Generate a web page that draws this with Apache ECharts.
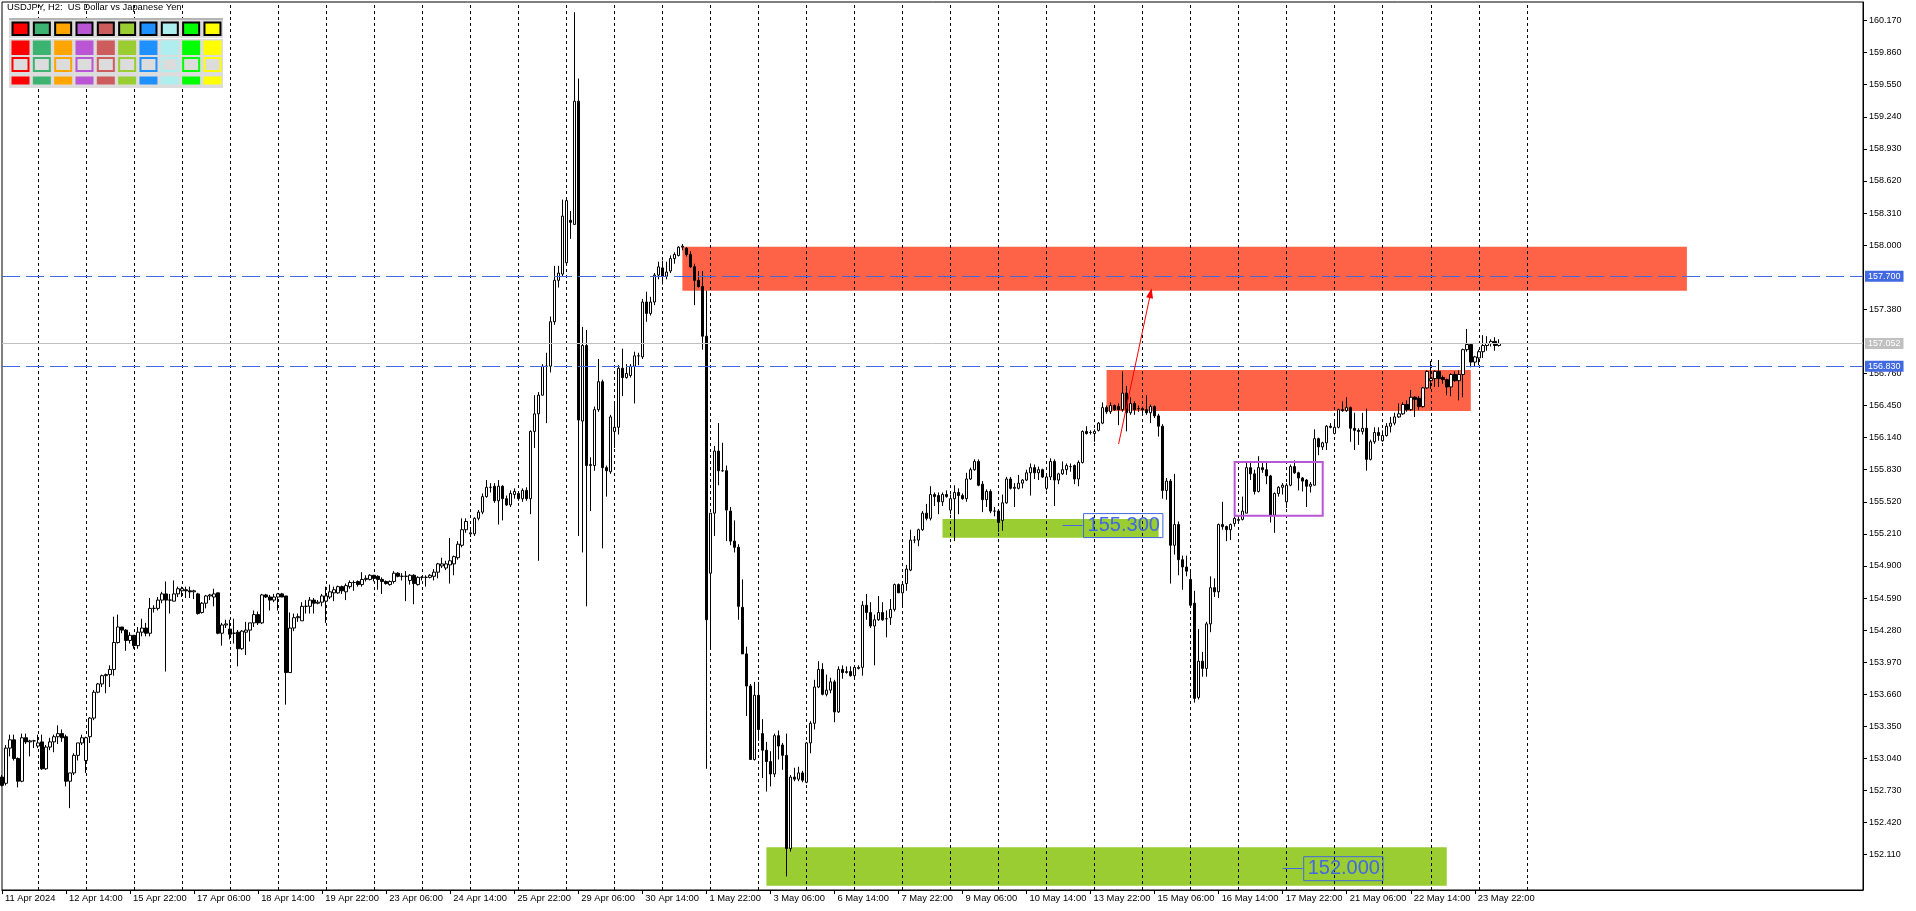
<!DOCTYPE html>
<html><head><meta charset="utf-8">
<script src="https://cdn.jsdelivr.net/npm/echarts@6/dist/echarts.min.js"></script>
<style>html,body{margin:0;padding:0;background:#fff;overflow:hidden}#c{width:1916px;height:911px}</style>
</head><body><div id="c"></div>
<script>
// ---- data ----
const tradingDays = ['11 Apr','12 Apr','15 Apr','16 Apr','17 Apr','18 Apr','19 Apr','22 Apr','23 Apr','24 Apr','25 Apr','26 Apr','29 Apr','30 Apr','1 May','2 May','3 May','6 May','7 May','8 May','9 May','10 May','13 May','14 May','15 May','16 May','17 May','20 May','21 May','22 May','23 May','24 May'];
const firstHour = 6;
const totalSlots = 466;
// [open, close, low, high]
const ohlc = [
[152.86,152.78,152.77,152.88],[152.80,153.14,152.78,153.17],[153.14,153.22,153.06,153.27],[153.22,153.04,153.02,153.27],[153.04,152.82,152.76,153.05],
[152.82,153.24,152.81,153.28],[153.24,153.20,153.18,153.28],[153.20,153.21,153.06,153.22],[153.21,153.21,153.14,153.22],[153.16,153.19,153.14,153.27],
[153.20,152.94,152.93,153.27],[152.94,153.15,152.93,153.17],[153.15,153.20,153.12,153.24],[153.20,153.25,153.10,153.27],[153.25,153.28,153.18,153.36],
[153.28,153.24,153.20,153.32],[153.25,152.82,152.77,153.27],[152.82,152.90,152.56,152.90],[152.90,153.07,152.88,153.09],[153.07,153.19,153.02,153.19],
[153.19,153.24,153.17,153.27],[153.02,153.24,152.90,153.25],[153.25,153.43,153.19,153.44],[153.43,153.68,153.41,153.70],[153.68,153.76,153.67,153.77],
[153.76,153.84,153.73,153.85],[153.84,153.85,153.67,153.86],[153.85,153.90,153.73,153.94],[153.90,154.16,153.84,154.41],[154.16,154.31,154.15,154.43],
[154.31,154.28,154.25,154.31],[154.28,154.18,154.08,154.29],[154.18,154.23,154.15,154.26],[154.23,154.13,154.10,154.22],[154.13,154.26,154.10,154.31],
[154.26,154.30,154.22,154.39],[154.30,154.25,154.22,154.35],[154.25,154.49,154.22,154.59],[154.49,154.49,154.45,154.52],[154.49,154.57,154.47,154.60],
[154.57,154.63,154.54,154.65],[154.63,154.57,153.88,154.75],[154.57,154.57,154.44,154.63],[154.56,154.63,154.56,154.76],[154.63,154.68,154.60,154.70],
[154.66,154.68,154.60,154.70],[154.67,154.66,154.59,154.70],[154.66,154.65,154.59,154.70],[154.65,154.66,154.58,154.67],[154.63,154.44,154.43,154.64],
[154.45,154.54,154.44,154.55],[154.54,154.61,154.49,154.62],[154.61,154.62,154.57,154.63],[154.60,154.63,154.51,154.68],[154.64,154.25,154.24,154.64],
[154.25,154.33,154.13,154.35],[154.33,154.34,154.30,154.38],[154.29,154.24,154.19,154.38],[154.25,154.25,154.15,154.39],[154.26,154.10,153.93,154.28],
[154.10,154.27,154.09,154.28],[154.26,154.28,154.04,154.36],[154.28,154.35,154.17,154.35],[154.35,154.43,154.31,154.47],[154.43,154.35,154.33,154.46],
[154.35,154.62,154.34,154.63],[154.62,154.60,154.59,154.63],[154.60,154.57,154.47,154.62],[154.57,154.60,154.55,154.63],[154.60,154.63,154.47,154.64],
[154.63,154.60,154.60,154.64],[154.61,153.87,153.56,154.61],[153.87,154.30,153.87,154.45],[154.30,154.40,154.27,154.44],[154.40,154.41,154.36,154.44],
[154.37,154.51,154.37,154.55],[154.51,154.51,154.44,154.57],[154.51,154.57,154.44,154.60],[154.57,154.54,154.44,154.59],[154.54,154.55,154.53,154.57],
[154.55,154.61,154.51,154.63],[154.56,154.61,154.35,154.70],[154.60,154.65,154.58,154.72],[154.64,154.67,154.56,154.70],[154.64,154.70,154.63,154.71],
[154.70,154.66,154.63,154.71],[154.65,154.71,154.57,154.73],[154.70,154.74,154.68,154.76],[154.74,154.74,154.66,154.76],[154.75,154.72,154.70,154.76],
[154.72,154.77,154.70,154.84],[154.77,154.78,154.75,154.81],[154.77,154.81,154.76,154.82],[154.81,154.78,154.75,154.81],[154.80,154.77,154.67,154.81],
[154.77,154.75,154.63,154.79],[154.75,154.73,154.72,154.76],[154.72,154.75,154.71,154.76],[154.75,154.83,154.73,154.85],[154.83,154.80,154.79,154.84],
[154.80,154.80,154.76,154.83],[154.80,154.80,154.56,154.85],[154.76,154.81,154.72,154.82],[154.81,154.73,154.53,154.82],[154.72,154.79,154.71,154.80],
[154.79,154.79,154.76,154.80],[154.79,154.79,154.70,154.81],[154.79,154.81,154.78,154.82],[154.80,154.84,154.76,154.87],[154.84,154.92,154.78,154.93],
[154.90,154.92,154.88,154.98],[154.88,154.92,154.86,154.95],[154.91,154.95,154.73,155.17],[154.92,154.99,154.81,155.00],[154.98,155.11,154.96,155.14],
[155.10,155.25,155.08,155.36],[155.25,155.33,155.22,155.36],[155.21,155.22,155.18,155.25],[155.21,155.36,155.19,155.37],[155.36,155.42,155.34,155.44],
[155.42,155.57,155.40,155.60],[155.57,155.66,155.56,155.73],[155.66,155.66,155.61,155.70],[155.67,155.53,155.51,155.70],[155.53,155.67,155.30,155.73],
[155.67,155.55,155.34,155.68],[155.55,155.49,155.48,155.58],[155.49,155.60,155.47,155.63],[155.59,155.62,155.55,155.65],[155.60,155.55,155.53,155.61],
[155.55,155.63,155.52,155.65],[155.63,155.55,155.53,155.66],[155.55,156.20,155.40,156.21],[156.20,156.37,156.04,156.55],[156.37,156.55,154.95,156.58],
[156.55,156.83,156.55,156.85],[156.83,156.83,156.28,156.96],[156.83,157.26,156.77,157.31],[157.26,157.66,157.23,157.80],[157.66,157.73,157.59,157.80],
[157.72,158.28,157.70,158.44],[157.83,158.43,157.83,158.46],[158.24,158.22,158.06,158.33],[158.20,159.39,158.20,160.25],[159.39,156.31,155.19,159.61],
[156.30,157.03,155.03,157.21],[157.03,155.87,154.51,157.18],[155.87,155.88,155.43,155.95],[155.87,156.41,155.82,156.44],[156.41,156.68,156.39,156.90],
[156.68,155.85,155.07,156.70],[155.85,155.82,155.57,155.87],[155.81,156.34,155.79,156.36],[156.20,156.24,156.04,156.47],[156.24,156.81,156.17,156.84],
[156.81,156.72,156.54,157.00],[156.72,156.76,156.71,156.85],[156.74,156.83,156.72,156.85],[156.83,156.93,156.47,156.97],[156.93,156.93,156.84,156.96],
[156.92,157.45,156.90,157.48],[157.45,157.34,157.26,157.55],[157.34,157.45,157.32,157.50],[157.45,157.71,157.42,157.73],[157.71,157.79,157.67,157.84],
[157.78,157.70,157.62,157.85],[157.70,157.74,157.67,157.84],[157.75,157.87,157.73,157.90],[157.87,157.91,157.82,157.93],[157.90,157.98,157.89,157.99],
[157.98,157.99,157.95,158.01],[157.97,157.91,157.89,157.98],[157.91,157.79,157.78,157.94],[157.79,157.66,157.42,157.82],[157.66,157.60,157.59,157.75],
[157.60,157.12,156.99,157.75],[157.12,154.38,152.94,157.56],[154.83,155.41,154.11,155.41],[155.41,156.01,155.19,156.06],[156.01,155.82,155.68,156.28],
[155.82,155.82,155.81,156.09],[155.82,155.44,155.14,155.87],[155.43,155.14,155.10,155.47],[155.14,155.08,155.03,155.34],[155.08,154.51,154.38,155.11],
[154.50,154.05,154.05,154.77],[154.05,153.74,153.45,154.12],[153.74,153.03,153.03,153.76],[153.03,153.65,153.02,153.78],[153.65,153.32,153.21,153.78],
[153.28,153.12,152.85,153.42],[153.12,153.01,152.72,153.20],[153.01,152.89,152.77,153.11],[152.89,153.26,152.86,153.28],[153.26,153.16,153.03,153.31],
[153.17,153.07,152.93,153.19],[153.07,152.17,151.90,153.28],[152.17,152.86,152.14,152.88],[152.86,152.84,152.82,152.95],[152.84,152.90,152.82,152.96],
[152.90,152.83,152.81,152.92],[152.81,153.19,152.80,153.20],[153.19,153.38,153.09,153.40],[153.38,153.73,153.32,153.80],[153.73,153.90,153.72,153.98],
[153.90,153.66,153.65,153.96],[153.66,153.70,153.64,153.85],[153.70,153.78,153.67,153.82],[153.78,153.49,153.39,153.80],[153.49,153.90,153.48,153.93],
[153.90,153.87,153.81,153.94],[153.87,153.88,153.86,153.93],[153.88,153.84,153.83,153.93],[153.84,153.92,153.82,153.93],[153.91,153.92,153.90,153.94],
[153.92,154.52,153.84,154.56],[154.52,154.45,154.38,154.63],[154.45,154.32,154.30,154.55],[154.32,154.38,153.94,154.43],[154.38,154.45,154.37,154.61],
[154.45,154.38,154.37,154.55],[154.39,154.39,154.21,154.47],[154.40,154.48,154.33,154.58],[154.48,154.72,154.46,154.73],[154.72,154.64,154.64,154.73],
[154.64,154.72,154.51,154.73],[154.73,154.87,154.66,154.91],[154.86,155.15,154.85,155.25],[155.15,155.15,155.12,155.19],[155.15,155.25,155.09,155.26],
[155.25,155.41,155.24,155.43],[155.41,155.36,155.34,155.50],[155.36,155.59,155.34,155.67],[155.59,155.57,155.48,155.61],[155.58,155.52,155.40,155.61],
[155.52,155.59,155.48,155.61],[155.59,155.57,155.56,155.63],[155.44,155.55,155.40,155.59],[155.55,155.61,155.14,155.68],[155.61,155.58,155.40,155.65],
[155.58,155.55,155.54,155.60],[155.55,155.74,155.52,155.80],[155.74,155.83,155.73,155.85],[155.83,155.91,155.82,155.93],[155.91,155.68,155.67,155.93],
[155.69,155.54,155.42,155.72],[155.54,155.62,155.47,155.64],[155.62,155.43,155.41,155.64],[155.43,155.43,155.38,155.47],[155.43,155.32,155.23,155.45],
[155.34,155.51,155.24,155.59],[155.51,155.74,155.50,155.76],[155.74,155.65,155.64,155.76],[155.65,155.66,155.47,155.70],[155.65,155.70,155.64,155.78],
[155.70,155.73,155.65,155.74],[155.73,155.80,155.72,155.83],[155.80,155.85,155.58,155.89],[155.85,155.80,155.74,155.88],[155.80,155.83,155.73,155.86],
[155.83,155.76,155.75,155.84],[155.65,155.76,155.63,155.78],[155.76,155.91,155.73,155.94],[155.91,155.73,155.48,155.93],[155.73,155.79,155.69,155.80],
[155.79,155.83,155.78,155.91],[155.83,155.87,155.78,155.89],[155.86,155.86,155.81,155.89],[155.87,155.74,155.69,155.88],[155.74,155.90,155.67,155.92],
[155.90,156.20,155.89,156.21],[156.20,156.18,156.17,156.25],[156.19,156.19,156.17,156.21],[156.18,156.20,156.10,156.22],[156.21,156.28,156.20,156.29],
[156.28,156.43,156.27,156.48],[156.43,156.39,156.37,156.45],[156.39,156.45,156.37,156.48],[156.45,156.41,156.40,156.46],[156.44,156.41,156.26,156.47],
[156.41,156.57,156.39,156.78],[156.57,156.38,156.20,156.64],[156.38,156.47,156.36,156.53],[156.47,156.41,156.36,156.49],[156.42,156.42,156.39,156.45],
[156.42,156.41,156.37,156.44],[156.41,156.38,156.36,156.55],[156.38,156.44,156.28,156.46],[156.44,156.35,156.33,156.45],[156.35,156.25,156.15,156.37],
[156.25,155.63,155.55,156.27],[155.63,155.72,155.54,155.75],[155.72,155.10,154.73,155.74],[155.10,155.30,155.01,155.79],[155.30,154.96,154.81,155.33],
[154.96,154.89,154.67,155.00],[154.89,154.85,154.80,155.00],[154.77,154.52,154.51,154.85],[154.54,153.62,153.58,154.66],[153.63,153.98,153.61,154.29],
[153.98,153.91,153.83,154.07],[153.91,154.34,153.83,154.36],[154.34,154.69,154.26,154.80],[154.69,154.65,154.60,154.78],[154.65,155.30,154.59,155.31],
[155.30,155.28,155.25,155.52],[155.28,155.25,155.14,155.29],[155.25,155.30,155.15,155.31],[155.31,155.36,155.28,155.38],[155.34,155.35,155.31,155.38],
[155.35,155.43,155.34,155.57],[155.41,155.85,155.41,155.90],[155.85,155.79,155.73,155.90],[155.79,155.62,155.59,155.83],[155.62,155.85,155.61,155.96],
[155.85,155.83,155.80,155.90],[155.83,155.77,155.69,155.90],[155.77,155.39,155.32,155.78],[155.39,155.60,155.22,155.61],[155.60,155.66,155.57,155.67],
[155.66,155.68,155.59,155.70],[155.52,155.68,155.46,155.70],[155.68,155.86,155.67,155.88],[155.86,155.80,155.79,155.92],[155.80,155.75,155.63,155.81],
[155.75,155.72,155.62,155.76],[155.73,155.67,155.47,155.74],[155.67,155.69,155.61,155.71],[155.68,156.13,155.68,156.22],[156.13,156.05,155.97,156.14],
[156.05,156.09,156.02,156.10],[156.09,156.25,156.02,156.26],[156.25,156.24,156.23,156.28],[156.18,156.24,156.17,156.31],[156.24,156.41,156.23,156.42],
[156.41,156.40,156.39,156.49],[156.40,156.43,156.39,156.53],[156.43,156.23,156.10,156.44],[156.23,156.21,156.02,156.38],[156.21,156.20,156.07,156.23],
[156.20,156.23,156.17,156.38],[156.23,155.93,155.82,156.42],[155.93,156.10,155.92,156.12],[156.10,156.19,156.08,156.24],[156.19,156.16,156.11,156.24],
[156.11,156.16,156.10,156.21],[156.16,156.25,156.15,156.28],[156.25,156.28,156.19,156.34],[156.28,156.34,156.26,156.38],[156.34,156.37,156.33,156.47],
[156.37,156.46,156.36,156.48],[156.46,156.41,156.39,156.50],[156.41,156.53,156.40,156.60],[156.53,156.51,156.34,156.54],[156.52,156.44,156.41,156.54],
[156.44,156.62,156.43,156.63],[156.62,156.78,156.61,156.79],[156.69,156.71,156.61,156.88],[156.71,156.78,156.63,156.79],[156.78,156.71,156.63,156.89],
[156.72,156.70,156.66,156.74],[156.70,156.63,156.55,156.71],[156.63,156.75,156.54,156.76],[156.75,156.69,156.68,156.78],[156.69,156.75,156.50,156.79],
[156.75,156.99,156.53,157.00],[156.99,157.04,156.97,157.19],[157.04,156.87,156.82,157.05],[156.87,156.92,156.83,156.93],[156.91,156.97,156.84,156.99],
[156.97,157.03,156.91,157.13],[157.03,157.05,156.98,157.12],[157.05,157.07,157.02,157.09],[157.07,157.03,156.98,157.11],[157.03,157.05,157.02,157.09]
];
const yTicks = [152.110,152.420,152.730,153.040,153.350,153.660,153.970,154.280,154.590,154.900,155.210,155.520,155.830,156.140,156.450,156.760,157.380,158.000,158.310,158.620,158.930,159.240,159.550,159.860,160.170];
const levelLines = [157.700, 156.830];
const bidPrice = 157.052;
const redZones = [[170, 157.983, 421, 157.559], [276, 156.793, 367, 156.397]];
const greenZones = [[235, 155.353, 289, 155.173], [191, 152.182, 361, 151.811]];
const rangeBox = [308, 155.904, 330, 155.385];
const arrowLine = [[279, 156.078], [287, 157.537]];
const priceTags = [{from: 265, to: 270, y: 155.29, text: '155.300'}, {from: 320, to: 325, y: 151.975, text: '152.000'}];
const paletteColors = ['#FF0000','#3CB371','#FFA500','#BA55D3','#CD5C5C','#9ACD32','#1E90FF','#AFEEEE','#00FF00','#FFFF00'];

// ---- categories ----
const categories = [];
for (let d = 0; d < tradingDays.length; d++) {
  for (let h = (d === 0 ? firstHour : 0); h <= 22; h += 2) {
    if (categories.length >= ohlc.length) break;
    categories.push(tradingDays[d] + ' ' + String(h).padStart(2, '0') + ':00');
  }
}
while (categories.length < totalSlots) categories.push('');
const labelIdx = i => i % 16 === 0 && i <= 368;
const sepIdx = [];
for (let i = 9; i <= 381; i += 12) sepIdx.push(i);

const FONT = 'Liberation Sans, Arial, sans-serif';
const chart = echarts.init(document.getElementById('c'), null, {renderer: 'canvas'});

// palette widget
const graphics = [];
graphics.push({type: 'rect', shape: {x: 9, y: 18, width: 214, height: 70}, style: {fill: '#DCDCDC'}, z: 20});
graphics.push({type: 'rect', shape: {x: 9, y: 18, width: 214, height: 2}, style: {fill: '#B4B4B4'}, z: 20});
graphics.push({type: 'rect', shape: {x: 9, y: 38, width: 214, height: 1}, style: {fill: '#FFFFFF'}, z: 20});
paletteColors.forEach((c, k) => {
  const x = 11.5 + 21.33 * k;
  graphics.push({type: 'rect', shape: {x: x + 1, y: 22.5, width: 16, height: 12.5}, style: {fill: c, stroke: '#000', lineWidth: 2}, z: 21});
  graphics.push({type: 'rect', shape: {x: x, y: 40.5, width: 18, height: 14.5}, style: {fill: c}, z: 21});
  graphics.push({type: 'rect', shape: {x: x + 1, y: 58, width: 16, height: 13}, style: {fill: '#DCDCDC', stroke: c, lineWidth: 2}, z: 21});
  graphics.push({type: 'rect', shape: {x: x, y: 76.5, width: 18, height: 8}, style: {fill: c}, z: 21});
});

const option = {
  animation: false,
  backgroundColor: '#fff',
  title: {text: 'USDJPY, H2:  US Dollar vs Japanese Yen', left: 7, top: 3, padding: 0,
    textStyle: {fontSize: 9.4, fontWeight: 'normal', color: '#000', fontFamily: FONT}},
  grid: {left: 2, top: 2, width: 1861, height: 888, show: true, borderColor: '#000', borderWidth: 1, backgroundColor: 'rgba(0,0,0,0)'},
  xAxis: {
    type: 'category', data: categories, boundaryGap: false,
    axisLine: {show: true, lineStyle: {color: '#000', width: 1}},
    axisTick: {show: true, interval: (i) => labelIdx(i), length: 4, lineStyle: {color: '#000'}},
    axisLabel: {interval: (i) => labelIdx(i), align: 'left', fontSize: 9.4, color: '#000', fontFamily: FONT, margin: 4, padding: [0, 0, 0, 3],
      formatter: (v, i) => i === 0 ? '11 Apr 2024' : v},
    splitLine: {show: false}
  },
  yAxis: {
    type: 'value', position: 'right', min: 151.769, max: 160.349, scale: true,
    axisLine: {show: true, lineStyle: {color: '#000'}},
    axisTick: {show: true, length: 4, lineStyle: {color: '#000'}, customValues: yTicks},
    axisLabel: {customValues: yTicks, formatter: v => v.toFixed(3), fontSize: 9, color: '#000', fontFamily: FONT, margin: 6},
    splitLine: {show: false}
  },
  graphic: graphics,
  series: [
    { // zones (background)
      type: 'line', data: [], z: 1, silent: true,
      markArea: {silent: true, z: 1, data: [
        ...redZones.map(r => [{coord: [r[0], r[1]], itemStyle: {color: '#FF6347', opacity: 1}}, {coord: [r[2], r[3]]}]),
        ...greenZones.map(r => [{coord: [r[0], r[1]], itemStyle: {color: '#9ACD32', opacity: 1}}, {coord: [r[2], r[3]]}])
      ]},
      markLine: {silent: true, z: 2, symbol: ['none', 'none'], label: {show: false},
        lineStyle: {color: '#000', type: [3, 3], width: 1}, emphasis: {disabled: true},
        data: sepIdx.map(i => ({xAxis: i}))}
    },
    {
      type: 'candlestick', data: ohlc, barWidth: 3, z: 5, silent: true,
      itemStyle: {color: '#FFFFFF', color0: '#000000', borderColor: '#000000', borderColor0: '#000000', borderWidth: 1}
    },
    { // overlays
      type: 'line', data: [], z: 8, silent: true,
      markArea: {silent: true, z: 8, data: [[{coord: [rangeBox[0], rangeBox[1]], itemStyle: {color: 'rgba(0,0,0,0)', borderColor: '#BA55D3', borderWidth: 2}}, {coord: [rangeBox[2], rangeBox[3]]}]]},
      markLine: {silent: true, z: 9, symbol: ['none', 'none'], emphasis: {disabled: true},
        data: [
          ...levelLines.map(v => ({yAxis: v, lineStyle: {color: '#4169E1', type: [18, 6], width: 1},
            label: {show: true, position: 'end', distance: 2, formatter: v.toFixed(3), backgroundColor: '#4169E1', color: '#fff', fontSize: 9, fontFamily: FONT, padding: [1, 3, 1, 3], lineHeight: 9}})),
          {yAxis: bidPrice, lineStyle: {color: '#C0C0C0', type: 'solid', width: 1},
            label: {show: true, position: 'end', distance: 2, formatter: bidPrice.toFixed(3), backgroundColor: '#C0C0C0', color: '#fff', fontSize: 9, fontFamily: FONT, padding: [1, 3, 1, 3], lineHeight: 9}},
          [{coord: arrowLine[0], symbol: 'none', lineStyle: {color: '#FF0000', width: 1, type: 'solid'}, label: {show: false}},
           {coord: arrowLine[1], symbol: 'triangle', symbolSize: [7, 10]}],
          ...priceTags.map(t => [{coord: [t.from, t.y], lineStyle: {color: '#4169E1', width: 1, type: 'solid'},
              label: {show: true, position: 'end', distance: 1, formatter: t.text, color: '#4169E1', fontSize: 20, fontFamily: FONT,
                borderColor: '#4169E1', borderWidth: 1, padding: [2, 3, 0, 4], lineHeight: 22}},
            {coord: [t.to, t.y]}])
        ]}
    }
  ]
};
chart.setOption(option);
</script>
</body></html>
